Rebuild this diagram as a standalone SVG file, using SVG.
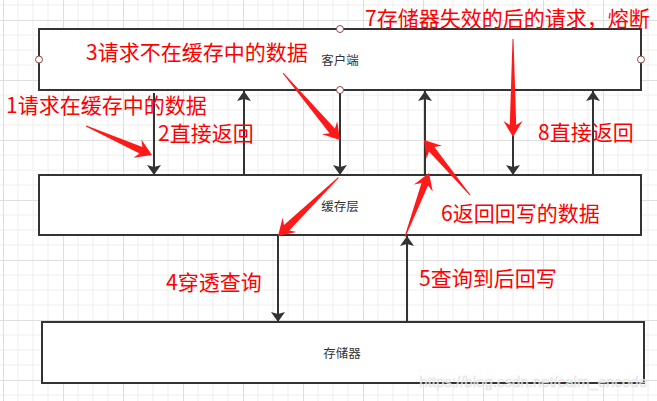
<svg xmlns="http://www.w3.org/2000/svg" width="657" height="401" viewBox="0 0 657 401">
<defs>
<pattern id="grid" x="3" y="20" width="60" height="60" patternUnits="userSpaceOnUse">
<path d="M15 0V60M30 0V60M45 0V60M0 15H60M0 30H60M0 45H60" stroke="#eeeeee" stroke-width="1" fill="none"/>
<path d="M0.5 0V60M0 0.5H60" stroke="#dedede" stroke-width="1" fill="none"/>
</pattern>
<marker id="ah" viewBox="0 0 10 14" refX="10" refY="7" markerWidth="10" markerHeight="14" markerUnits="userSpaceOnUse" orient="auto">
<path d="M0 0L10 7L0 14L2 7Z" fill="#333"/>
</marker>
<style>
.box{fill:#fff;stroke:#333;stroke-width:2}
.lbl{font-family:"Noto Sans CJK SC","Noto Sans",sans-serif;font-size:12.5px;fill:#333;text-anchor:middle}
.red{font-family:"Noto Sans CJK SC","Noto Sans",sans-serif;font-size:21px;fill:#ff0000}
.cn{stroke:#333;stroke-width:2;fill:none;marker-end:url(#ah)}
.pt{fill:#fff;stroke:#8c4a4a;stroke-width:1}
.ra{fill:#ff1a1a}
</style>
</defs>
<rect width="657" height="401" fill="#fff"/>
<rect width="657" height="401" fill="url(#grid)"/>

<g id="client">
<rect class="box" x="39" y="29" width="602" height="61"/>
<text class="lbl" x="340" y="65">客户端</text>
<circle class="pt" cx="39" cy="59.5" r="3.5"/>
<circle class="pt" cx="641" cy="59.5" r="3.5"/>
<circle class="pt" cx="340" cy="29" r="3.5"/>
<circle class="pt" cx="340" cy="90" r="3.5"/>
</g>
<g id="cache">
<rect class="box" x="39" y="175" width="602" height="60"/>
<text class="lbl" x="340" y="211">缓存层</text>
</g>
<g id="storage">
<rect class="box" x="42" y="322" width="602" height="61"/>
<text class="lbl" x="342" y="358">存储器</text>
</g>

<g id="connectors">
<line class="cn" x1="154" y1="93" x2="154" y2="175"/>
<line class="cn" x1="244" y1="174" x2="244" y2="91"/>
<line class="cn" x1="340" y1="93.5" x2="340" y2="175"/>
<line class="cn" x1="425" y1="174" x2="425" y2="91"/>
<line class="cn" x1="513" y1="91" x2="513" y2="175"/>
<line class="cn" x1="593" y1="174" x2="593" y2="91"/>
<line class="cn" x1="278" y1="236" x2="278" y2="322"/>
<line class="cn" x1="407" y1="321" x2="407" y2="236"/>
</g>

<g id="annotations">
<path class="ra" transform="translate(152,155) rotate(23.7)" d="M-72 -0.5L-12 -3.5L-16 -10L0 0L-16 10L-12 3.5L-72 0.5Z"/>
<path class="ra" transform="translate(340,140) rotate(49.6)" d="M-88 -0.5L-12 -3.5L-16 -10L0 0L-16 10L-12 3.5L-88 0.5Z"/>
<path class="ra" transform="translate(513,137) rotate(90)" d="M-98 -0.5L-12 -3.2L-16 -9.5L0 0L-16 9.5L-12 3.2L-98 0.5Z"/>
<path class="ra" transform="translate(424,140) rotate(-129.9)" d="M-72 -0.5L-12 -3.5L-16 -10L0 0L-16 10L-12 3.5L-72 0.5Z"/>
<path class="ra" transform="translate(429,173) rotate(-69.4)" d="M-68 -0.5L-12 -3.5L-16 -10L0 0L-16 10L-12 3.5L-68 0.5Z"/>
<path class="ra" transform="translate(278,236) rotate(136)" d="M-84 -0.5L-12 -3.8L-16 -10L0 0L-16 10L-12 3.8L-84 0.5Z"/>
<text class="red" x="6" y="113">1请求在缓存中的数据</text>
<text class="red" x="158" y="141">2直接返回</text>
<text class="red" x="86" y="60">3请求不在缓存中的数据</text>
<text class="red" x="166" y="290">4穿透查询</text>
<text class="red" x="419" y="286">5查询到后回写</text>
<text class="red" x="441" y="221">6返回回写的数据</text>
<text class="red" x="365" y="26">7存储器失效的后的请求，熔断</text>
<text class="red" x="538" y="140">8直接返回</text>
</g>
<text x="647" y="387" text-anchor="end" font-family="Liberation Sans, sans-serif" font-size="15" fill="#fff" stroke="#d8d8d8" stroke-width="0.6" opacity="0.8">https://blog.csdn.net/calm_encode</text>
</svg>
